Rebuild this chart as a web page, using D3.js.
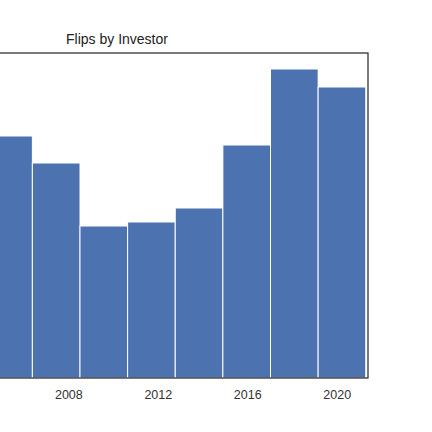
<!DOCTYPE html>
<html><head><meta charset="utf-8">
<script src="https://cdn.jsdelivr.net/npm/d3@7"></script>
<style>body{margin:0;background:#fff}svg{display:block}</style>
</head><body>
<svg id="c" width="432" height="432"></svg>
<script>
// histogram bins (left edge of each bin, years), width ~2.13 yrs
const binStarts = [2000, 2002.13, 2004.26, 2006.39, 2008.52, 2010.65, 2012.78, 2014.91, 2017.04, 2019.17];
const binWidth = 2.13;
const counts = [180, 200, 242, 215, 152, 156, 170, 233, 309, 291];
const tickYears = [2004, 2008, 2012, 2016, 2020];

const svg = d3.select('#c');
const pLeft = -134, pRight = 368, pTop = 53, pBottom = 378;
const x = d3.scaleLinear().domain([1998.95, 2021.4]).range([pLeft, pRight]);
const y = d3.scaleLinear().domain([0, 325]).range([pBottom, pTop]);

svg.append('g').selectAll('rect').data(binStarts).join('rect')
  .attr('x', d => x(d))
  .attr('width', x(binWidth) - x(0))
  .attr('y', (d, i) => y(counts[i]))
  .attr('height', (d, i) => pBottom - y(counts[i]))
  .attr('fill', '#4c72b0').attr('stroke', '#fff').attr('stroke-width', 1);

svg.append('rect').attr('x', pLeft).attr('y', pTop)
  .attr('width', pRight - pLeft).attr('height', pBottom - pTop)
  .attr('fill', 'none').attr('stroke', '#222').attr('stroke-width', 1.2);

const ax = d3.axisBottom(x).tickValues(tickYears).tickFormat(d3.format('d')).tickSize(0).tickPadding(12);
const g = svg.append('g').attr('transform', `translate(0,${pBottom})`).call(ax);
g.select('.domain').remove();
g.selectAll('text').attr('font-family', 'Liberation Sans, Arial').attr('font-size', 12.5).attr('fill', '#333');

svg.append('text').attr('x', (pLeft + pRight) / 2).attr('y', pTop - 9)
  .attr('text-anchor', 'middle').attr('font-family', 'Liberation Sans, Arial')
  .attr('font-size', 14).attr('fill', '#222').text('Flips by Investor');
</script>
</body></html>
